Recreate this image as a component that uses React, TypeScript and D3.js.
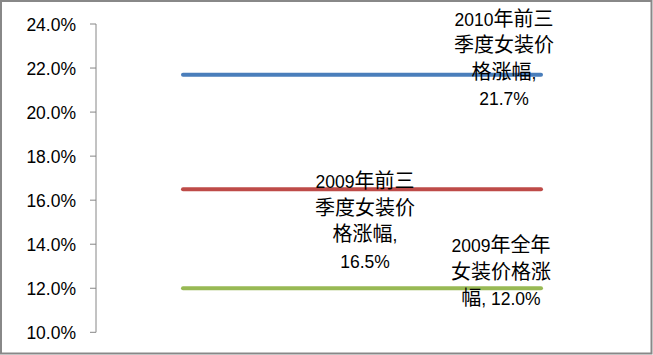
import React from "react";
import * as d3 from "d3";

const categories = ["起点", "终点"];
const seriesNames = ["2009年全年女装价格涨幅", "2009年前三季度女装价格涨幅", "2010年前三季度女装价格涨幅"];
const seriesValues = [12.0, 16.5, 21.7];
const seriesColors = ["#98B954", "#BE4B48", "#4A7EBB"];
const labelLines = [
  ["2009年全年", "女装价格涨", "幅, 12.0%"],
  ["2009年前三", "季度女装价", "格涨幅,", "16.5%"],
  ["2010年前三", "季度女装价", "格涨幅,", "21.7%"],
];
const tickValues = [10, 12, 14, 16, 18, 20, 22, 24];

const W = 653;
const H = 355;
const LINE_H = 26.5;
// label layout: [x offset from anchor, first baseline offset from line y, anchor]
const labelLayout: [number, number, "end" | "mid"][] = [
  [-40, -36, "end"],
  [3, -1, "mid"],
  [-37, -49, "end"],
];

function Runs({ text }: { text: string }) {
  const parts = text.split(/([\u3000-\u9fff\uff00-\uffef]+)/).filter((p) => p.length > 0);
  return (
    <>
      {parts.map((p, i) => {
        const cjk = /[\u3000-\u9fff\uff00-\uffef]/.test(p);
        return (
          <tspan
            key={i}
            fontFamily={cjk ? "'Noto Sans CJK SC'" : "'Liberation Sans', Arial, sans-serif"}
            fontSize={cjk ? 20 : 17.5}
          >
            {p}
          </tspan>
        );
      })}
    </>
  );
}

export default function App() {
  const y = d3.scaleLinear().domain([10, 24]).range([332.3, 24]);
  const x = d3.scalePoint<string>().domain(categories).range([183, 541]);
  const axisX = 96;
  const line = d3
    .line<[string, number]>()
    .x((d) => x(d[0]) as number)
    .y((d) => y(d[1]));

  return (
    <svg
      width={W}
      height={H}
      style={{ position: "fixed", left: 0, top: 0, background: "#fff" }}
    >
      <rect x={1} y={1} width={W - 2.5} height={H - 2.5} fill="#fff" stroke="#888" strokeWidth={2} />
      <line x1={axisX} x2={axisX} y1={y(24)} y2={y(10)} stroke="#868686" strokeWidth={1} />
      {tickValues.map((t) => (
        <g key={t}>
          <line x1={axisX - 6} x2={axisX} y1={y(t)} y2={y(t)} stroke="#868686" strokeWidth={1} />
          <text
            x={76}
            y={y(t) + 6.5}
            textAnchor="end"
            fontFamily="'Liberation Sans', Arial, sans-serif"
            fontSize={17.5}
            fill="#000"
          >
            {t.toFixed(1) + "%"}
          </text>
        </g>
      ))}
      {seriesValues.map((v, i) => (
        <path
          key={seriesNames[i]}
          d={line(categories.map((c) => [c, v] as [string, number])) || ""}
          stroke={seriesColors[i]}
          strokeWidth={4}
          strokeLinecap="round"
          fill="none"
        />
      ))}
      {seriesValues.map((v, i) => {
        const [dx, dy, anchor] = labelLayout[i];
        const x0 = x(categories[0]) as number;
        const x1 = x(categories[1]) as number;
        const cx = (anchor === "end" ? x1 : (x0 + x1) / 2) + dx;
        const by = y(v) + dy;
        return (
          <text key={"l" + i} textAnchor="middle" fill="#000">
            {labelLines[i].map((ln, j) => (
              <tspan key={j} x={cx} y={by + j * LINE_H}>
                <Runs text={ln} />
              </tspan>
            ))}
          </text>
        );
      })}
    </svg>
  );
}
